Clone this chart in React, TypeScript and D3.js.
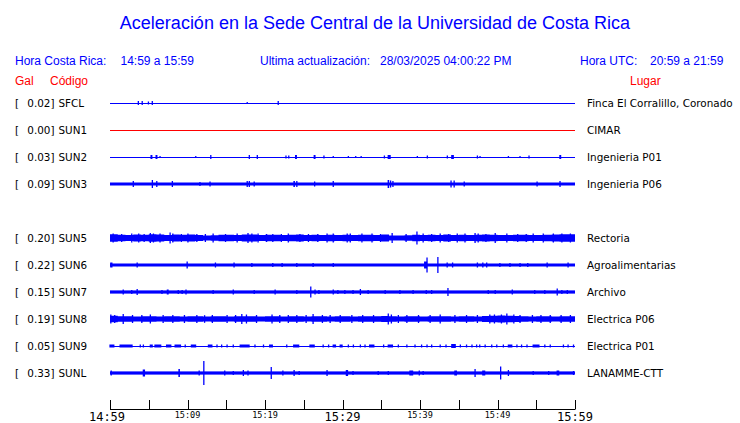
import React from 'react';
import * as d3 from 'd3';

const W = 740;
const H = 423;

// ---- data ----
const stations = ['SFCL', 'SUN1', 'SUN2', 'SUN3', 'SUN4', 'SUN5', 'SUN6', 'SUN7', 'SUN8', 'SUN9', 'SUNL'];
const peakGal = ['0.02', '0.00', '0.03', '0.09', '', '0.20', '0.22', '0.15', '0.19', '0.05', '0.33'];
const places = ['Finca El Corralillo, Coronado', 'CIMAR', 'Ingenieria P01', 'Ingenieria P06', '', 'Rectoria', 'Agroalimentarias', 'Archivo', 'Electrica P06', 'Electrica P01', 'LANAMME-CTT'];
const active = [true, true, true, true, false, true, true, true, true, true, true];
const isDead = [false, true, false, false, false, false, false, false, false, false, false];

// constant noise half-amplitude (counts) where no envelope array is given
const baseAmp = [0, 0, 0, 1.5, 0, 0, 1.5, 1.6, 0, 0, 1.6];

// per-minute envelopes (minutes 0..60)
const envSUN5 = [3.8, 3.3, 3.1, 3.5, 3.2, 3.7, 3.4, 3.1, 3.5, 3.2, 3.4, 3.0, 2.6, 2.7, 3.2, 3.3, 3.0, 3.4, 3.5, 3.1, 3.2, 3.3, 3.0, 3.2, 3.4, 3.0, 3.2, 2.9, 3.3, 3.1, 3.3, 3.1, 3.2, 3.3, 3.1, 3.4, 2.6, 2.4, 2.7, 3.3, 3.1, 3.3, 3.1, 3.4, 3.1, 3.3, 3.0, 3.3, 3.5, 3.2, 3.1, 3.0, 3.2, 3.3, 3.1, 3.0, 3.2, 3.6, 3.7, 3.8, 3.8];
const envSUN8 = [3.2, 2.8, 2.7, 2.5, 2.8, 2.7, 2.5, 2.7, 2.8, 2.5, 2.7, 2.7, 2.5, 2.8, 2.7, 2.5, 2.7, 2.8, 2.7, 2.5, 2.7, 2.7, 2.5, 2.8, 2.7, 2.5, 2.7, 2.7, 2.5, 2.7, 2.7, 2.5, 2.7, 2.8, 2.7, 3.0, 2.7, 2.5, 2.7, 2.7, 2.5, 2.7, 2.8, 2.7, 2.5, 2.7, 2.7, 2.5, 2.9, 3.3, 3.4, 3.3, 3.0, 2.7, 2.5, 2.7, 2.7, 2.5, 2.7, 2.8, 2.8];

// spikes: [minute, half amplitude (counts), duration (minutes)]
const spikesSFCL = [[3.65, 2, 0], [4.15, 2, 0], [4.95, 1.5, 0.15], [5.45, 2, 0.15], [17.7, 1, 0], [21.7, 2, 0]];
const spikesSUN1: number[][] = [];
const spikesSUN2 = [[5.3, 2, 0.25], [5.95, 2, 0.25], [6.45, 1, 0], [11.06, 1, 0], [13.0, 2, 0], [17.97, 2, 0], [19.0, 2, 0], [22.7, 1.5, 0], [23.06, 1.5, 0], [23.95, 2, 0.25], [26.35, 2, 0.25], [27.6, 1.5, 0], [28.8, 1, 0], [30.75, 1, 0], [31.7, 1, 0], [32.4, 1, 0], [35.4, 1.5, 0], [35.9, 2, 0.4], [39.65, 1, 0], [40.94, 1.5, 0], [43.52, 1.5, 0], [44.1, 2, 0.35], [47.4, 1.5, 0], [47.74, 1, 0], [51.4, 1, 0], [52.9, 1, 0], [54.06, 1.5, 0], [58.05, 2, 0.25]];
const spikesSUN3 = [[3.0, 3, 0], [5.46, 4, 0], [6.03, 3, 0], [8.04, 3, 0], [11.6, 2, 0], [12.9, 2.5, 0], [17.7, 3, 0], [17.97, 3, 0], [18.6, 2.5, 0], [23.74, 3, 0.2], [24.1, 3, 0], [26.4, 2.5, 0], [28.8, 3, 0], [35.9, 4, 0.2], [36.2, 3.5, 0], [36.5, 3, 0], [44.0, 3.5, 0.15], [44.4, 3.5, 0], [45.7, 2.5, 0], [55.1, 2.5, 0], [58.06, 3, 0]];
const spikesSUN4: number[][] = [];
const spikesSUN5 = [[0.4, 4.5, 0], [1.5, 4, 0], [2.8, 4.5, 0], [3.7, 4.5, 0], [4.4, 4, 0], [5.2, 5, 0.15], [5.6, 4.5, 0], [6.45, 4.5, 0], [7.75, 5.5, 0], [8.1, 4.5, 0], [9.2, 4, 0], [10.05, 4.5, 0], [11.2, 4, 0], [12.3, 4, 0], [13.3, 4.5, 0], [14.9, 4, 0], [16.4, 4.5, 0], [17.8, 5, 0.15], [18.3, 4.5, 0], [19.1, 4.5, 0], [20.2, 4, 0], [21.0, 4, 0], [22.1, 4, 0], [23.0, 4.5, 0], [24.5, 4, 0], [25.6, 4, 0], [26.8, 4, 0], [28.0, 4.5, 0], [28.8, 4.5, 0], [30.6, 4.5, 0], [31.0, 4.5, 0], [32.5, 4.5, 0], [33.8, 4.5, 0], [34.9, 4, 0], [36.4, 5, 0], [38.2, 4, 0], [39.6, 6.5, 0], [40.4, 4.5, 0], [41.5, 4, 0], [42.6, 4.5, 0], [43.7, 4, 0], [44.8, 4.5, 0], [45.8, 4.5, 0], [47.1, 5, 0], [47.5, 4.5, 0], [48.5, 4, 0], [49.7, 5, 0], [51.2, 4.5, 0], [52.6, 4, 0], [53.7, 4, 0], [54.6, 4.5, 0], [55.9, 4.5, 0], [57.2, 4.5, 0], [58.3, 4.5, 0], [59.4, 4.5, 0]];
const spikesSUN6 = [[0.1, 2.5, 0.3], [3.5, 2.5, 0], [9.95, 3.5, 0], [13.6, 2.5, 0], [16.0, 2.5, 0], [18.3, 2, 0], [21.0, 2, 0], [22.2, 2, 0], [24.1, 2, 0], [26.2, 2, 0], [28.8, 2, 0], [40.6, 3.5, 0.4], [40.9, 7.5, 0], [42.3, 8, 0], [43.5, 2.5, 0], [44.2, 2.5, 0], [47.4, 2.5, 0], [48.1, 2.5, 0], [48.6, 2.5, 0], [50.3, 2, 0], [51.6, 2, 0], [52.9, 2, 0], [53.9, 2, 0], [56.4, 2.5, 0], [59.1, 2.5, 0]];
const spikesSUN7 = [[1.7, 2.5, 0], [2.8, 2, 0], [3.5, 3, 0], [6.7, 2, 0], [7.4, 2.5, 0.25], [8.8, 2, 0], [9.3, 2, 0], [9.8, 2.5, 0], [13.3, 2, 0], [15.9, 2.5, 0], [18.6, 2, 0], [21.3, 2.5, 0], [24.1, 2, 0], [25.9, 5.5, 0], [26.45, 2.5, 0], [26.95, 2, 0], [28.8, 2.5, 0], [29.4, 2, 0], [30.3, 2, 0], [31.35, 2, 0], [32.3, 3, 0], [33.3, 2, 0], [35.5, 2, 0], [37.4, 2, 0], [39.1, 2, 0], [40.8, 2, 0], [41.5, 2, 0], [43.6, 4, 0], [48.8, 2, 0], [49.7, 2, 0], [51.9, 2.5, 0.15], [54.8, 2, 0], [56.1, 2, 0], [57.7, 3.5, 0], [58.3, 2, 0], [59.0, 2, 0]];
const spikesSUN8 = [[0.1, 4.5, 0.15], [0.6, 4, 0], [1.7, 5, 0], [2.9, 4, 0], [4.1, 4, 0], [5.2, 4.5, 0], [6.85, 4, 0], [8.1, 4, 0], [9.6, 4, 0], [11.2, 4, 0], [12.2, 3.8, 0], [13.2, 4, 0], [15.1, 4, 0], [16.2, 4, 0], [17.0, 5, 0], [17.6, 4.5, 0], [18.9, 4, 0], [20.9, 4.5, 0], [21.9, 4, 0], [23.0, 4, 0], [24.1, 4, 0], [25.3, 4, 0], [26.2, 5, 0], [27.4, 4, 0], [28.4, 4, 0], [29.7, 4, 0], [31.2, 4, 0], [32.6, 4, 0], [34.0, 4, 0], [35.9, 5.5, 0], [36.3, 4.5, 0], [37.2, 4, 0], [38.3, 4, 0], [39.8, 4, 0], [41.3, 4, 0], [42.6, 4.5, 0], [44.5, 4, 0], [46.0, 4, 0], [47.4, 4, 0], [49.0, 4.5, 0], [49.6, 4.5, 0], [50.5, 4.5, 0], [51.2, 5.5, 0], [52.1, 4.5, 0], [52.9, 4, 0], [54.5, 4, 0], [55.6, 4, 0], [56.8, 4, 0], [58.2, 4, 0], [59.4, 4, 0]];
const spikesSUN9 = [[0, 1.5, 0.65], [1.3, 1.5, 1.7], [3.9, 1.5, 0], [4.3, 1.5, 0], [5.2, 1.5, 0.4], [5.8, 1.5, 0.9], [7.3, 1.5, 0.7], [8.4, 1.5, 0.85], [9.7, 1.5, 0], [10.5, 1.5, 0.7], [12.7, 1.5, 0.6], [13.8, 1.5, 0], [14.4, 1.5, 0], [15.1, 1.5, 0], [15.9, 1.5, 0], [16.8, 1.5, 1.3], [18.7, 1.5, 0], [19.8, 1.5, 0], [20.6, 1.5, 0.5], [22.8, 1.5, 0], [23.7, 1.5, 0.8], [25.8, 1.5, 0.7], [27.5, 1.5, 0], [28.2, 1.5, 0], [28.8, 1.5, 0.45], [29.7, 1.5, 0.4], [30.75, 1.5, 0], [31.4, 1.5, 0], [32.3, 1.5, 0], [32.9, 1.5, 0], [33.5, 1.5, 0.7], [35.3, 1.5, 0], [35.9, 1.5, 0.7], [37.2, 1.5, 0], [38.3, 1.5, 0], [39.35, 1.5, 0], [40.2, 1.5, 0], [40.9, 1.5, 0], [41.5, 1.5, 0], [42.6, 1.5, 0], [43.35, 1.5, 0], [44.1, 2, 0.6], [45.2, 1.5, 0], [46.0, 1.5, 0], [46.7, 1.5, 0], [47.3, 1.5, 0], [47.7, 1.5, 0], [48.4, 1.5, 0], [49.25, 1.5, 0], [49.9, 1.5, 0], [50.75, 1.5, 0], [51.4, 1.5, 0.6], [52.5, 1.5, 0], [53.1, 1.5, 0], [53.8, 1.5, 0], [54.6, 1.5, 0.9], [56.1, 1.5, 0], [56.8, 1.5, 0], [58.5, 1.5, 0], [59.1, 1.5, 0], [59.8, 1.5, 0]];
const spikesSUNL = [[0.15, 2.5, 0], [4.3, 3.5, 0.3], [8.9, 4, 0.2], [11.5, 2.5, 0], [12.1, 12, 0], [14.8, 2.5, 0], [15.9, 2, 0], [17.2, 3, 0.15], [17.8, 2.5, 0], [20.8, 6, 0.15], [22.3, 2.5, 0], [23.75, 3, 0], [24.4, 2, 0], [28.0, 3, 0], [30.5, 3, 0.3], [31.35, 2, 0], [34.6, 2, 0], [35.9, 2, 0], [38.7, 2.5, 0.5], [39.9, 2.5, 0], [40.4, 2, 0], [44.5, 2.5, 0.35], [47.1, 4, 0], [48.1, 2.5, 0.4], [50.4, 6.5, 0], [51.4, 3, 0], [54.6, 2, 0], [56.6, 2, 0], [57.7, 2.5, 0.35], [59.8, 2, 0]];

const spikes = [spikesSFCL, spikesSUN1, spikesSUN2, spikesSUN3, spikesSUN4, spikesSUN5, spikesSUN6, spikesSUN7, spikesSUN8, spikesSUN9, spikesSUNL];
const envelopes: (number[] | null)[] = [null, null, null, null, null, envSUN5, null, null, envSUN8, null, null];

const tickMinutes = d3.range(0, 61, 5);
const labelMinutes = [0, 10, 20, 30, 40, 50, 60];
const labelTexts = ['14:59', '15:09', '15:19', '15:29', '15:39', '15:49', '15:59'];
const labelMajor = [true, false, false, true, false, false, true];

const title = 'Aceleración en la Sede Central de la Universidad de Costa Rica';
const horaCR = '14:59 a 15:59';
const ultima = '28/03/2025 04:00:22 PM';
const horaUTC = '20:59 a 21:59';

const BLUE = '#0000ff';
const RED = '#ff0000';

export default function App() {
  const x = d3.scaleLinear().domain([0, 60]).range([110, 575]);
  const row = d3.scalePoint<string>().domain(stations).range([103, 373]);
  const amp = d3.scaleLinear().domain([0, 13.5]).range([0, 13.5]);
  const sans = 'Liberation Sans, Arial, Helvetica, sans-serif';
  const dj = 'DejaVu Sans, sans-serif';
  const mono = 'DejaVu Sans Mono, monospace';

  return (
    <svg width={W} height={H} style={{ position: 'absolute', left: 0, top: 0, background: '#fff' }}>
      <rect x={0} y={0} width={W} height={H} fill="#fff" />
      <text x={375} y={29} textAnchor="middle" fill={BLUE} fontFamily={sans} fontSize={18}>{title}</text>

      <text x={15} y={65} fill={BLUE} fontFamily={sans} fontSize={12}>Hora Costa Rica:</text>
      <text x={120.5} y={65} fill={BLUE} fontFamily={sans} fontSize={12}>{horaCR}</text>
      <text x={260} y={65} fill={BLUE} fontFamily={sans} fontSize={12}>Ultima actualización:</text>
      <text x={380} y={65} fill={BLUE} fontFamily={sans} fontSize={12}>{ultima}</text>
      <text x={580} y={65} fill={BLUE} fontFamily={sans} fontSize={12}>Hora UTC:</text>
      <text x={650} y={65} fill={BLUE} fontFamily={sans} fontSize={12}>{horaUTC}</text>

      <text x={15} y={85} fill={RED} fontFamily={sans} fontSize={12}>Gal</text>
      <text x={50} y={85} fill={RED} fontFamily={sans} fontSize={12}>Código</text>
      <text x={630} y={85} fill={RED} fontFamily={sans} fontSize={12}>Lugar</text>

      {stations.map((s, i) => {
        if (!active[i]) return null;
        const cy = row(s) as number;
        const color = isDead[i] ? RED : BLUE;
        const env = envelopes[i];
        let envPath: string | null = null;
        if (env) {
          const area = d3.area<number>()
            .x((_, j) => x(j))
            .y0(d => cy + amp(d))
            .y1(d => cy - amp(d))
            .curve(d3.curveStepAfter);
          envPath = area(env);
        }
        return (
          <g key={s}>
            <text x={15} y={cy + 4} fill="#000" fontFamily={dj} fontSize={10.4}>[</text>
            <text x={54.5} y={cy + 4} textAnchor="end" fill="#000" fontFamily={dj} fontSize={10.4}>{peakGal[i] + ']'}</text>
            <text x={58.5} y={cy + 4} fill="#000" fontFamily={dj} fontSize={10.4}>{s}</text>
            <text x={587} y={cy + 4} fill="#000" fontFamily={dj} fontSize={10.4}>{places[i]}</text>
            <line x1={x(0)} x2={x(60)} y1={cy} y2={cy} stroke={color} strokeWidth={1} shapeRendering="crispEdges" />
            {baseAmp[i] > 0 && (
              <rect x={x(0)} width={x(60) - x(0)} y={cy - amp(baseAmp[i])} height={2 * amp(baseAmp[i])} fill={color} />
            )}
            {envPath && <path d={envPath} fill={color} />}
            {spikes[i].map((d, k) => {
              const x0 = x(d[0]);
              const w = Math.max(1.3, x(d[0] + d[2]) - x0);
              return (
                <rect key={k} x={x0 - 0.6} width={w} y={cy - amp(d[1])} height={2 * amp(d[1])} fill={color} />
              );
            })}
          </g>
        );
      })}

      <line x1={x(0)} x2={x(60)} y1={409.5} y2={409.5} stroke="#000" strokeWidth={1} />
      {tickMinutes.map(t => (
        <line key={t} x1={Math.round(x(t)) + 0.5} x2={Math.round(x(t)) + 0.5} y1={400} y2={409.5} stroke="#000" strokeWidth={1} />
      ))}
      {labelMinutes.map((t, i) => (
        <text key={t} x={x(t) - (i === 0 ? 3 : 0)} y={labelMajor[i] ? 420.5 : 417.5} textAnchor="middle" fill="#000"
          fontFamily={mono} fontSize={labelMajor[i] ? 12 : 8.5}>{labelTexts[i]}</text>
      ))}
    </svg>
  );
}
